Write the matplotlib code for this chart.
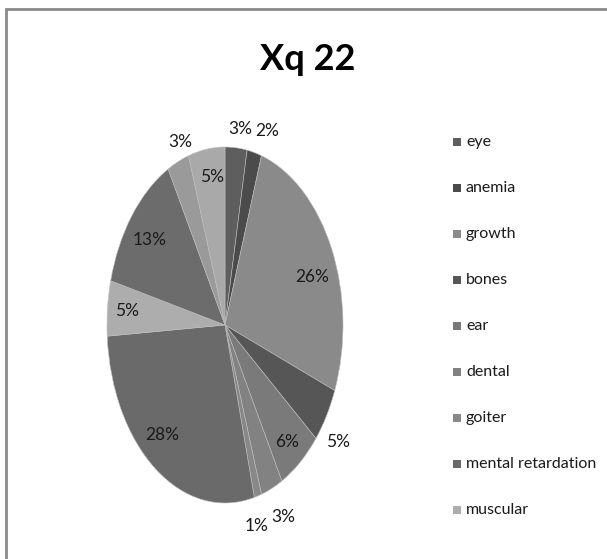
import matplotlib
matplotlib.use("Agg")
import matplotlib.pyplot as plt
from matplotlib.patches import Rectangle

plt.rcParams["font.family"] = ["Lato", "DejaVu Sans"]

# share of cases per feature, clockwise from 12 o'clock
values = [3, 2, 26, 5, 6, 3, 1, 28, 5, 13, 3, 5]
legend_labels = ["eye", "anemia", "growth", "bones", "ear", "dental",
                 "goiter", "mental retardation", "muscular"]
colors = ["#5e5e5e", "#4b4b4b", "#8a8a8a", "#565656", "#7a7a7a", "#828282",
          "#888888", "#6a6a6a", "#adadad", "#6c6c6c", "#9a9a9a", "#a9a9a9"]

# label anchor per slice in pie units (x, y), radius 1 = rim
label_pos = [(0.13, 1.10), (0.36, 1.09), (0.74, 0.27), (0.96, -0.66),
             (0.53, -0.66), (0.49, -1.08), (0.27, -1.13), (-0.53, -0.62),
             (-0.83, 0.08), (-0.64, 0.48), (-0.38, 1.03), (-0.11, 0.83)]

W, H = 607, 559
fig = plt.figure(figsize=(W / 100, H / 100), dpi=100)

# chart frame (runs off the right and bottom edges)
fig.patches.append(Rectangle((5.5 / W, -0.05), 1.2, 1.05 - 9 / H,
                             transform=fig.transFigure, fill=False,
                             edgecolor="#8a8a8a", linewidth=2))

# pie is drawn stretched vertically: axes box == ellipse bounds
cx, cy, rx, ry = 225, 325, 118, 178
ax = fig.add_axes([(cx - rx) / W, (H - cy - ry) / H, 2 * rx / W, 2 * ry / H])
wedges, _ = ax.pie(values, colors=colors, startangle=90, counterclock=False,
                   wedgeprops=dict(edgecolor="#bdbdbd", linewidth=0.4))
ax.set_aspect("auto")
ax.set_xlim(-1, 1)
ax.set_ylim(-1, 1)
ax.axis("off")

for v, (x, y) in zip(values, label_pos):
    ax.text(x, y, f"{v}%", ha="center", va="center", fontsize=12.5,
            color="#1a1a1a", clip_on=False)

fig.text(308 / W, 1 - 60 / H, "Xq 22", ha="center", va="center",
         fontsize=26, fontweight="bold")

# legend, drawn entry by entry
for i, (lab, col) in enumerate(zip(legend_labels, colors)):
    y = 142 + i * 46
    fig.patches.append(Rectangle((453 / W, 1 - (y + 4) / H), 8 / W, 8 / H,
                                 transform=fig.transFigure, facecolor=col,
                                 edgecolor="none"))
    fig.text(466 / W, 1 - y / H, lab, ha="left", va="center", fontsize=11.5,
             color="#1a1a1a")

fig.savefig("out.png", dpi=100, facecolor="white")
